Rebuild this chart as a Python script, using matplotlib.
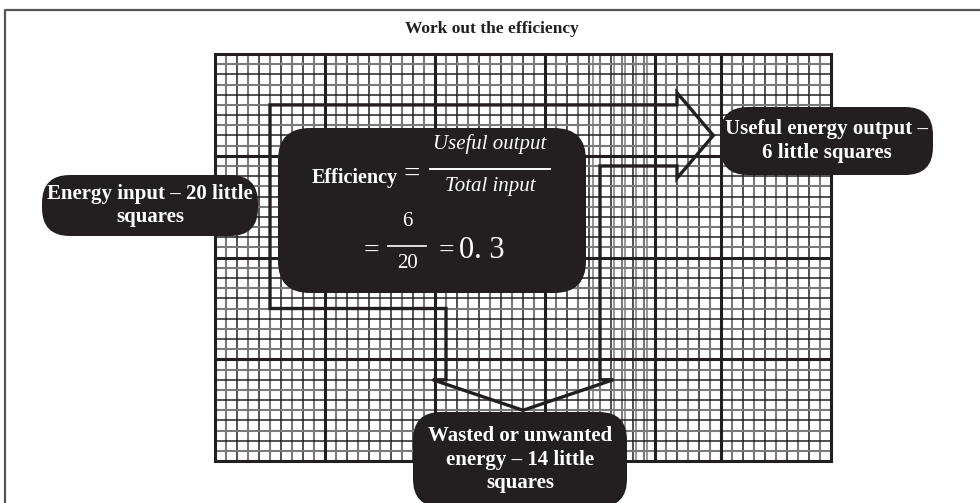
import matplotlib
matplotlib.use("Agg")
import matplotlib.pyplot as plt
from matplotlib.patches import FancyBboxPatch, Polygon
from matplotlib.transforms import Affine2D

plt.rcParams['font.family'] = ['Liberation Serif', 'DejaVu Serif']

# graph paper, counted in little squares
n_cols = 56
n_rows = 40
major_cols = [0, 10, 20, 30, 40, 46, 56]
major_rows = [0, 10, 20, 30, 40]
# doubled lines where the scanned paper was joined
seam_cols = [34.4, 36.3, 37.3, 38.3, 39.3]

# energy flow, in little squares
energy_input = 20
useful_output = 6
wasted_energy = 14

title = "Work out the efficiency"
label_input = "Energy input – 20 little\nsquares"
label_useful = "Useful energy output –\n6 little squares"
label_wasted = "Wasted or unwanted\nenergy – 14 little\nsquares"

BOX = '#231f20'
DARK = '#231f20'
GREY = '#7a7a7a'

fig = plt.figure(figsize=(9.8, 5.03), dpi=100)
ax = fig.add_axes([0, 0, 1, 1])
ax.set_xlim(0, 980)
ax.set_ylim(503, 0)
ax.axis('off')

# one little square is 11 px wide and about 10.2 px high
sq = Affine2D().scale(11.0, 10.18).translate(215, 54) + ax.transData

# frame round the figure
ax.plot([5, 5, 980], [503, 10, 10], color='#555555', lw=1.6, solid_capstyle='butt')

ax.text(492, 29, title, ha='center', va='center', fontsize=12.5, fontweight='bold', color=DARK)

# graph paper
for i in range(n_cols + 1):
    if i in major_cols:
        continue
    ax.plot([i, i], [0, n_rows], transform=sq, color=DARK if i % 2 == 0 else GREY,
            lw=1.1 if i % 2 == 0 else 1.5, zorder=1)
for c in seam_cols:
    ax.plot([c, c], [0, n_rows], transform=sq, color=GREY, lw=1.1, zorder=1)
for j in range(n_rows + 1):
    if j in major_rows:
        continue
    ax.plot([0, n_cols], [j, j], transform=sq, color=DARK if j % 2 == 0 else GREY,
            lw=1.1 if j % 2 == 0 else 1.5, zorder=1)
for i in major_cols:
    ax.plot([i, i], [0, n_rows], transform=sq, color=DARK, lw=2.2, zorder=2)
for j in major_rows:
    ax.plot([0, n_cols], [j, j], transform=sq, color=DARK, lw=2.2, zorder=2)

# the energy arrow
x0, y0 = 5, 5
body_end = 42
x_split = 21
waste_end = 32
flare = 1.2
head_right = 3.3
head_down = 3.0
x_turn = x_split + wasted_energy
y_out = y0 + useful_output
y_in = y0 + energy_input
outline = [
    (x0, y0), (body_end, y0), (body_end, y0 - flare),
    (body_end + head_right, y0 + useful_output / 2),
    (body_end, y_out + flare), (body_end, y_out),
    (x_turn, y_out), (x_turn, waste_end), (x_turn + flare, waste_end),
    (x_split + wasted_energy / 2, waste_end + head_down),
    (x_split - flare, waste_end), (x_split, waste_end),
    (x_split, y_in), (x0, y_in),
]
ax.add_patch(Polygon(outline, closed=True, fill=False, edgecolor=DARK, lw=2.4,
                     joinstyle='miter', transform=sq, zorder=3))


def label_box(x, y, w, h, r, text=None):
    ax.add_patch(FancyBboxPatch((x, y), w, h, boxstyle=f"round,pad=0,rounding_size={r}",
                                facecolor=BOX, edgecolor='none', zorder=4))
    if text:
        ax.text(x + w / 2, y + h / 2, text, ha='center', va='center', color='white',
                fontsize=15, fontweight='bold', linespacing=1.25, zorder=5)


label_box(42, 175, 216, 61, 28, label_input)
label_box(720, 107, 213, 68, 28, label_useful)
label_box(413, 412, 214, 95, 28, label_wasted)
label_box(278, 128, 308, 165, 32)

# the sum inside the middle box
w = dict(color='white', ha='center', va='center', zorder=5)
ax.text(355, 178, "Efficiency", fontsize=14.5, fontweight='bold', **w)
ax.text(412, 175, "=", fontsize=21, **w)
ax.text(490, 144, "Useful output", fontsize=15, style='italic', **w)
ax.plot([430, 550], [169, 169], color='white', lw=1.4, zorder=5)
ax.text(490, 187, "Total input", fontsize=15, style='italic', **w)
ax.text(371, 251, "=", fontsize=20, **w)
ax.text(407, 221, "6", fontsize=15, **w)
ax.plot([388, 426], [246, 246], color='white', lw=1.2, zorder=5)
ax.text(407, 264, "20", fontsize=15, **w)
ax.text(446, 251, "=", fontsize=20, **w)
ax.text(482, 251, "0. 3", fontsize=22, **w)

fig.savefig("out.png", dpi=100)
